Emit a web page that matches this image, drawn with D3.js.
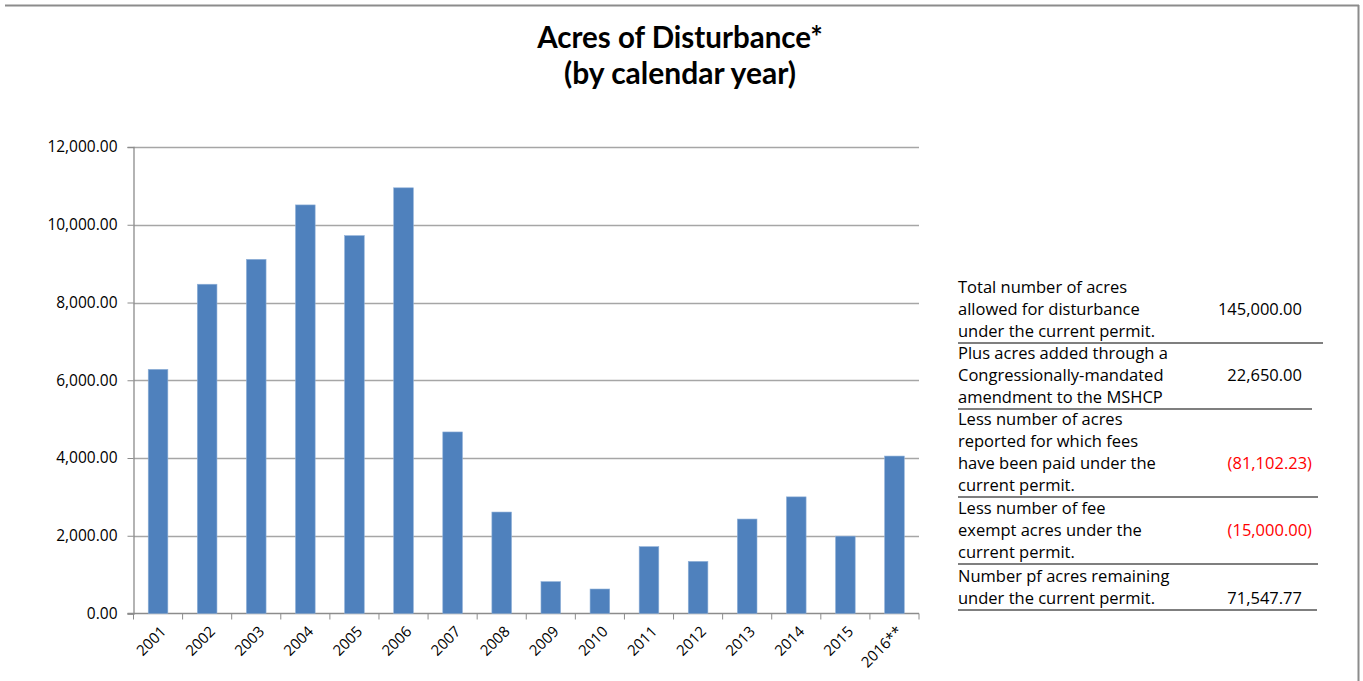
<!DOCTYPE html>
<html>
<head>
<meta charset="utf-8">
<script src="https://cdn.jsdelivr.net/npm/d3@7"></script>
<style>
body { margin: 0; background: #fff; }
text { font-family: "Open Sans", Lato, sans-serif; }
</style>
</head>
<body>
<svg id="chart" width="1363" height="681"></svg>
<script>
// acres of disturbance per calendar year
var years = ["2001", "2002", "2003", "2004", "2005", "2006", "2007", "2008",
  "2009", "2010", "2011", "2012", "2013", "2014", "2015", "2016**"];
var acres = [6280, 8470, 9110, 10510, 9720, 10950, 4670, 2610,
  820, 630, 1720, 1340, 2430, 3000, 1990, 4050];
var yTicks = [0, 2000, 4000, 6000, 8000, 10000, 12000];

// summary table at the right
var tableLabels = [
  ["Total number of acres", "allowed for disturbance", "under the current permit."],
  ["Plus acres added through a", "Congressionally-mandated", "amendment to the MSHCP"],
  ["Less number of acres", "reported for which fees", "have been paid under the", "current permit."],
  ["Less number of fee", "exempt acres under the", "current permit."],
  ["Number pf acres remaining", "under the current permit."]
];
var tableValues = [145000.00, 22650.00, -81102.23, -15000.00, 71547.77];

var svg = d3.select("#chart");

// outer frame (top and right edges visible)
svg.append("line").attr("x1", 5).attr("y1", 5.5).attr("x2", 1359).attr("y2", 5.5)
  .style("stroke", "#8c8c8c").style("stroke-width", 2);
svg.append("line").attr("x1", 1358.5).attr("y1", 5).attr("x2", 1358.5).attr("y2", 681)
  .style("stroke", "#8c8c8c").style("stroke-width", 2);

// title
svg.append("text").text("Acres of Disturbance*")
  .attr("x", 680).attr("y", 48)
  .attr("text-anchor", "middle").attr("font-size", 29.5).attr("font-weight", "bold")
  .style("font-family", "Lato, sans-serif");
svg.append("text").text("(by calendar year)")
  .attr("x", 680).attr("y", 84)
  .attr("text-anchor", "middle").attr("font-size", 30).attr("font-weight", "bold")
  .style("font-family", "Lato, sans-serif");

var plotLeft = 133.5, plotRight = 919, plotTop = 147, plotBottom = 613.5;

var x = d3.scaleBand()
  .domain(years)
  .range([plotLeft, plotRight])
  .paddingInner(0.6)
  .paddingOuter(0.3);

var y = d3.scaleLinear()
  .domain([0, 12000])
  .range([plotBottom, plotTop]);

// gridlines
svg.append("g").selectAll("line").data(yTicks.slice(1)).enter().append("line")
  .attr("x1", plotLeft).attr("x2", plotRight)
  .attr("y1", function (d) { return Math.round(y(d)) + 0.5; })
  .attr("y2", function (d) { return Math.round(y(d)) + 0.5; })
  .style("stroke", "#a6a6a6").style("stroke-width", 1.3);

// y axis
var yAxis = d3.axisLeft(y)
  .tickValues(yTicks)
  .tickSize(6)
  .tickPadding(10)
  .tickFormat(d3.format(",.2f"));
var gy = svg.append("g").attr("transform", "translate(" + plotLeft + ",0)").call(yAxis);
gy.select(".domain").style("stroke", "#8c8c8c").style("stroke-width", 1.3);
gy.selectAll(".tick line").style("stroke", "#8c8c8c");
gy.selectAll(".tick text").attr("font-size", 15.5).attr("fill", "#000")
  .style("font-family", "'Open Sans', sans-serif");

// x axis: ticks at category boundaries
var step = x.step();
var bounds = d3.range(years.length + 1).map(function (i) { return plotLeft + i * step; });
svg.append("line").attr("x1", plotLeft - 6).attr("x2", plotRight)
  .attr("y1", plotBottom).attr("y2", plotBottom)
  .style("stroke", "#8c8c8c").style("stroke-width", 1.3);
svg.append("g").selectAll("line").data(bounds).enter().append("line")
  .attr("x1", function (d) { return d; }).attr("x2", function (d) { return d; })
  .attr("y1", plotBottom).attr("y2", plotBottom + 6)
  .style("stroke", "#8c8c8c");

// bars
svg.append("g").selectAll("rect").data(acres).enter().append("rect")
  .attr("x", function (d, i) { return x(years[i]); })
  .attr("width", x.bandwidth())
  .attr("y", function (d) { return y(d); })
  .attr("height", function (d) { return plotBottom - y(d); })
  .style("fill", "#4f81bd")
  .style("stroke", "#8fb0d8").style("stroke-width", 0.6);

// rotated year labels
svg.append("g").selectAll("text").data(years).enter().append("text")
  .text(function (d) { return d; })
  .attr("text-anchor", "end")
  .attr("font-size", 15)
  .attr("transform", function (d) {
    var cx = x(d) + x.bandwidth() / 2 + 9;
    return "translate(" + cx + "," + (plotBottom + 19) + ") rotate(-45)";
  });

// table
var lineH = 22;
var tx = 958;
var rowTop = [288, 354, 420, 509, 577];
var lineEnds = [1323, 1312, 1318, 1318, 1317];
var numFmt = d3.format(",.2f");

tableLabels.forEach(function (lines, r) {
  var g = svg.append("g");
  lines.forEach(function (t, k) {
    g.append("text").text(t)
      .attr("x", tx).attr("y", rowTop[r] + k * lineH + 5)
      .attr("font-size", 16.5);
  });
  var v = tableValues[r];
  var midLine = lines.length === 4 ? 2 : 1;
  g.append("text")
    .text(v < 0 ? "(" + numFmt(-v) + ")" : numFmt(v))
    .attr("x", v < 0 ? 1312 : 1302)
    .attr("y", rowTop[r] + midLine * lineH + 5)
    .attr("text-anchor", "end")
    .attr("font-size", 16.5)
    .attr("fill", v < 0 ? "#ff0000" : "#000");
  var ly = rowTop[r] + (lines.length - 1) * lineH + 11;
  g.append("line")
    .attr("x1", tx).attr("x2", lineEnds[r])
    .attr("y1", ly).attr("y2", ly)
    .style("stroke", "#000").style("stroke-width", 1.2);
});
</script>
</body>
</html>
